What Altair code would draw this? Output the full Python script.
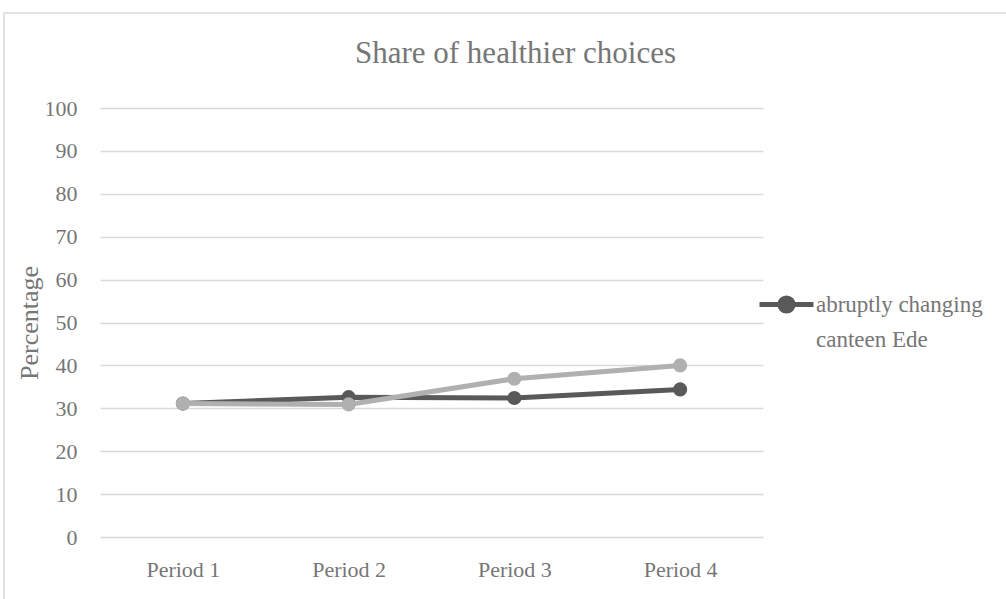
import altair as alt
import pandas as pd

periods = ["Period 1", "Period 2", "Period 3", "Period 4"]
dark_name = "abruptly changing canteen Ede"
dark_values = [31.1, 32.6, 32.4, 34.4]
light_name = "gradually changing canteen"
light_values = [31.1, 30.9, 36.9, 40.0]
y_ticks = [0, 10, 20, 30, 40, 50, 60, 70, 80, 90, 100]

FONT = "Liberation Serif"
TXT = "#767676"
DARK = "#595959"
LIGHT = "#b0b0b0"

dark_df = pd.DataFrame({"period": periods, "value": dark_values, "series": dark_name})
light_df = pd.DataFrame({"period": periods, "value": light_values, "series": light_name})

x = alt.X("period:N", sort=periods, title=None,
          scale=alt.Scale(type="point", padding=0.5),
          axis=alt.Axis(labelAngle=0, ticks=False, domain=False, grid=False,
                        labelPadding=22, labelFontSize=22, labelColor=TXT, labelFont=FONT))
y = alt.Y("value:Q", title="Percentage",
          scale=alt.Scale(domain=[0, 100], nice=False, zero=True),
          axis=alt.Axis(values=y_ticks, ticks=False, domain=False,
                        gridColor="#d9d9d9", gridWidth=1.5, labelPadding=23,
                        labelFontSize=22, labelColor=TXT, labelFont=FONT,
                        titleFontSize=26, titleColor=TXT, titleFont=FONT,
                        titleFontWeight="normal", titlePadding=2))

# legend symbol: line with a dot
sym = ("M-1.6,0L1.6,0"
       "M0.39,0A0.39,0.39 0 1,1 -0.39,0A0.39,0.39 0 1,1 0.39,0")

dark = alt.Chart(dark_df).mark_line(
    strokeWidth=5, point=alt.OverlayMarkDef(size=200, filled=True, opacity=1)
).encode(
    x=x, y=y,
    color=alt.Color("series:N",
                    scale=alt.Scale(domain=[dark_name], range=[DARK]),
                    legend=alt.Legend(
                        title=None, orient="none", legendX=667, legendY=177,
                        symbolType=sym, symbolSize=1139, symbolStrokeWidth=5,
                        labelExpr="['abruptly changing', 'canteen Ede']",
                        labelFontSize=23, labelColor=TXT, labelFont=FONT,
                        labelLimit=400, labelOffset=10, labelBaseline="middle"))
)

light = alt.Chart(light_df).mark_line(
    strokeWidth=5, color=LIGHT,
    point=alt.OverlayMarkDef(size=200, filled=True, opacity=1, color=LIGHT)
).encode(x=x, y=y)

frame = alt.Chart(pd.DataFrame({"f": [0]})).mark_rect(
    fill=None, stroke="#d9d9d9", strokeWidth=1.5
).encode(x=alt.value(-96), x2=alt.value(930), y=alt.value(-95), y2=alt.value(520))

chart = alt.layer(frame, dark, light).properties(
    width=663, height=429,
    title=alt.TitleParams("Share of healthier choices", fontSize=31, font=FONT,
                          color=TXT, fontWeight="normal", anchor="middle",
                          frame="group", dx=84, offset=-58),
    padding={"left": 100, "top": 108, "right": 243, "bottom": 62},
    autosize=alt.AutoSizeParams(type="none"),
).configure(
    background="white",
    view=alt.ViewConfig(stroke=None),
    style={"guide-label": {"lineHeight": 35}},
)

chart.save("out.html", embed_options={"renderer": "svg", "actions": False})
